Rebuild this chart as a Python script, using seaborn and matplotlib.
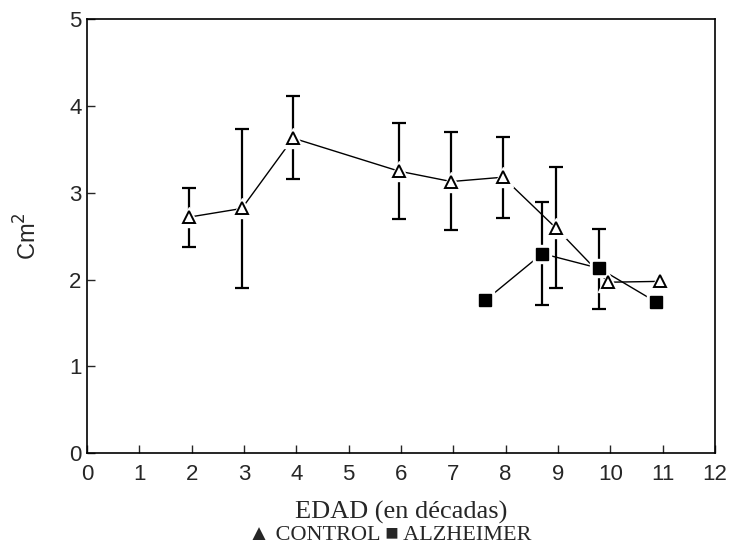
import numpy as np
import pandas as pd
import seaborn as sns
import matplotlib
matplotlib.use("Agg")
import matplotlib.pyplot as plt

# control group (decades)
ctrl_x = [1.95, 2.96, 3.94, 5.96, 6.96, 7.95, 8.97, 9.96, 10.96]
ctrl_y = [2.72, 2.82, 3.63, 3.25, 3.13, 3.18, 2.59, 1.97, 1.98]
ctrl_hi = [3.05, 3.74, 4.12, 3.80, 3.70, 3.64, 3.30, np.nan, np.nan]
ctrl_lo = [2.38, 1.90, 3.16, 2.70, 2.57, 2.71, 1.90, np.nan, np.nan]

# alzheimer group
alz_x = [7.61, 8.70, 9.79, 10.88]
alz_y = [1.76, 2.30, 2.13, 1.74]
alz_hi = [np.nan, 2.90, 2.58, np.nan]
alz_lo = [np.nan, 1.71, 1.66, np.nan]

df_ctrl = pd.DataFrame({"edad": ctrl_x, "cm2": ctrl_y, "hi": ctrl_hi, "lo": ctrl_lo})
df_alz = pd.DataFrame({"edad": alz_x, "cm2": alz_y, "hi": alz_hi, "lo": alz_lo})

sns.set_style("ticks")
plt.rcParams["font.family"] = ["Liberation Sans", "DejaVu Sans"]

fig = plt.figure(figsize=(7.31, 5.5), dpi=100)
ax = fig.add_axes([0.119, 0.176, 0.859, 0.789])

# error bars first (only where they exist)
for d in [df_ctrl, df_alz]:
    e = d.dropna()
    ax.errorbar(e["edad"], e["cm2"], yerr=[e["cm2"] - e["lo"], e["hi"] - e["cm2"]],
                fmt="none", ecolor="black", elinewidth=1.6, capsize=5, capthick=1.6, zorder=2)

sns.lineplot(data=df_ctrl, x="edad", y="cm2", ax=ax, color="black", lw=1.0, sort=False, zorder=1)
sns.lineplot(data=df_alz, x="edad", y="cm2", ax=ax, color="black", lw=1.0, sort=False, zorder=1)

# white halo so lines stop short of the markers
ax.plot(ctrl_x, ctrl_y, ls="none", marker="^", ms=15, mfc="white", mec="white", zorder=3)
ax.plot(ctrl_x, ctrl_y, ls="none", marker="^", ms=9, mfc="white", mec="black", mew=1.4, zorder=4)
ax.plot(alz_x, alz_y, ls="none", marker="s", ms=13, mfc="white", mec="white", zorder=3)
ax.plot(alz_x, alz_y, ls="none", marker="s", ms=8, mfc="black", mec="black", zorder=4)

ax.set_xlim(0, 12)
ax.set_ylim(0, 5)
ax.set_xticks(range(0, 13))
ax.set_yticks(range(0, 6))
ax.tick_params(direction="in", length=6, width=1, labelsize=16)
ax.tick_params(axis="x", pad=8)
ax.tick_params(axis="y", pad=4)
for s in ax.spines.values():
    s.set_linewidth(1.2)
    s.set_color("black")

ax.set_xlabel("EDAD (en décadas)", fontsize=19, family=["Liberation Serif", "DejaVu Serif"], labelpad=11)
ax.set_ylabel("Cm$^2$", fontsize=17, labelpad=20)
fig.text(0.533, 0.018, "▲ CONTROL ■ ALZHEIMER", ha="center", fontsize=16,
         family=["Liberation Serif", "DejaVu Sans"])

fig.savefig("out.png", dpi=100)
